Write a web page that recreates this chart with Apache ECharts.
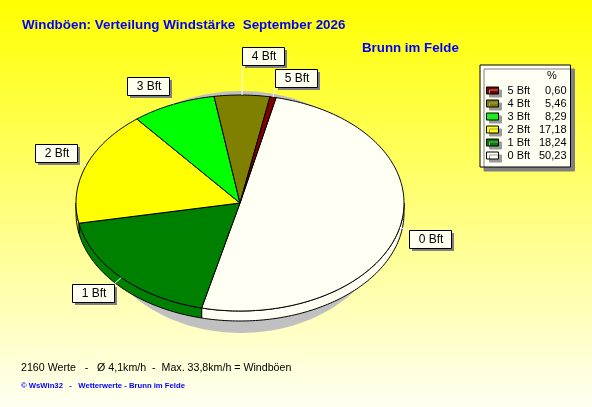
<!DOCTYPE html>
<html>
<head>
<meta charset="utf-8">
<title>Windböen Verteilung</title>
<script src="https://cdn.jsdelivr.net/npm/echarts@6/dist/echarts.min.js"></script>
<style>
  html, body { margin: 0; padding: 0; }
  #chart { width: 592px; height: 407px; }
</style>
</head>
<body>
<div id="chart"></div>
<script>
// Windstärke-Verteilung (Anteile in %)
const categories = ['0 Bft', '1 Bft', '2 Bft', '3 Bft', '4 Bft', '5 Bft'];
const shares = [50.23, 18.24, 17.18, 8.29, 5.46, 0.60];
const sliceColors = ['#fffff4', '#008000', '#ffff00', '#00ff00', '#808000', '#800000'];

const titleText = 'Windböen: Verteilung Windstärke  September 2026';
const stationText = 'Brunn im Felde';
const statsText = '2160 Werte   -   Ø 4,1km/h  -  Max. 33,8km/h = Windböen';
const footerText = '© WsWin32   -   Wetterwerte - Brunn im Felde';

const FONT = '"Liberation Sans", Arial, sans-serif';

// Geometrie der gekippten Torte
const CX = 240, CY = 203, RX = 164, RY = 108, DEPTH = 10;
const START = 12.7;           // Grad im Uhrzeigersinn ab 12 Uhr
const BOX_W = 42, BOX_H = 18;

const total = shares.reduce((s, v) => s + v, 0);
const spans = [];
let acc = START;
shares.forEach(v => {
    const a = v / total * 360;
    spans.push([acc, acc + a]);
    acc += a;
});

function pt(a, dy) {
    const r = a * Math.PI / 180;
    return [CX + RX * Math.sin(r), CY - RY * Math.cos(r) + (dy || 0)];
}

function arc(a1, a2, dy) {
    const pts = [];
    const n = Math.max(2, Math.ceil(Math.abs(a2 - a1)));
    for (let k = 0; k <= n; k++) pts.push(pt(a1 + (a2 - a1) * k / n, dy));
    return pts;
}

// Beschriftungen anordnen, Überlappungen nach außen schieben
function layoutLabels() {
    const out = [];
    const placed = [];
    for (let i = shares.length - 1; i >= 0; i--) {
        const m = (spans[i][0] + spans[i][1]) / 2;
        const r = m * Math.PI / 180;
        const p = pt(m);
        const lx = p[0] + 10 * Math.sin(r);
        const ly = p[1] - 10 * Math.cos(r);
        const right = Math.sin(r) >= -0.001;
        const upper = Math.cos(r) > 0;
        const x = Math.round(right ? lx : lx - BOX_W);
        let y = Math.round(upper ? ly - BOX_H : ly);
        let moved = true;
        while (moved) {
            moved = false;
            for (const b of placed) {
                if (x < b.x + BOX_W + 3 && x + BOX_W + 3 > b.x && y < b.y + BOX_H + 3 && y + BOX_H + 3 > b.y) {
                    y = upper ? b.y - BOX_H - 4 : b.y + BOX_H + 4;
                    moved = true;
                }
            }
        }
        placed.push({ x, y });
        out[i] = { x, y, p, end: [lx, upper ? y + BOX_H : y] };
    }
    return out;
}
const labels = layoutLabels();

function renderSide(params, api) {
    const i = params.dataIndex;
    const s = Math.max(spans[i][0], 90), e = Math.min(spans[i][1], 270);
    if (s >= e) return { type: 'group', children: [] };
    const pts = arc(s, e, 0).concat(arc(e, s, DEPTH));
    return {
        type: 'polygon',
        shape: { points: pts },
        style: { fill: sliceColors[i], stroke: '#000', lineWidth: 1 }
    };
}

function renderTop(params, api) {
    const i = params.dataIndex;
    const pts = [[CX, CY]].concat(arc(spans[i][0], spans[i][1], 0));
    return {
        type: 'polygon',
        shape: { points: pts },
        style: { fill: sliceColors[i], stroke: '#000', lineWidth: 1 }
    };
}

function renderLabel(params, api) {
    const i = params.dataIndex;
    const l = labels[i];
    return {
        type: 'group',
        children: [
            { type: 'line', shape: { x1: l.p[0], y1: l.p[1], x2: l.end[0], y2: l.end[1] }, style: { stroke: '#fff', lineWidth: 1 } },
            { type: 'rect', shape: { x: l.x + 3, y: l.y + 3, width: BOX_W, height: BOX_H }, style: { fill: '#808080' } },
            { type: 'rect', shape: { x: l.x + 0.5, y: l.y + 0.5, width: BOX_W, height: BOX_H }, style: { fill: '#fffff0', stroke: '#000', lineWidth: 1 } },
            { type: 'text', style: { text: categories[i], x: l.x + BOX_W / 2 + 1, y: l.y + BOX_H / 2 + 1, align: 'center', verticalAlign: 'middle', fill: '#000', font: '12px ' + FONT } }
        ]
    };
}

function fmt(v) { return v.toFixed(2).replace('.', ','); }

const chart = echarts.init(document.getElementById('chart'));
const seriesData = categories.map((c, i) => ({ name: c, value: shares[i] }));

chart.setOption({
    animation: false,
    backgroundColor: {
        type: 'linear', x: 0, y: 0, x2: 0, y2: 1,
        colorStops: [{ offset: 0, color: '#ffff00' }, { offset: 1, color: '#fffff2' }]
    },
    title: [
        { text: titleText, left: 22, top: 19, padding: 0, textStyle: { color: '#0000ff', fontWeight: 'bold', fontSize: 13.4, fontFamily: FONT } },
        { text: stationText, left: 362, top: 42, padding: 0, textStyle: { color: '#0000ff', fontWeight: 'bold', fontSize: 13.3, fontFamily: FONT } },
        { text: statsText, left: 21, top: 363, padding: 0, textStyle: { color: '#000', fontWeight: 'normal', fontSize: 10.65, fontFamily: FONT } },
        { text: footerText, left: 21, top: 382, padding: 0, textStyle: { color: '#0000ff', fontWeight: 'bold', fontSize: 7.7, fontFamily: FONT } },
        { text: '%', left: 547, top: 70, padding: 0, textStyle: { color: '#000', fontWeight: 'normal', fontSize: 11, fontFamily: FONT } }
    ],
    legend: {
        orient: 'vertical',
        left: 480, top: 65,
        padding: [20, 4, 6, 6],
        data: categories.slice().reverse(),
        icon: 'rect',
        itemWidth: 12, itemHeight: 7, itemGap: 2,
        backgroundColor: '#fffff4',
        borderColor: '#000', borderWidth: 1,
        shadowColor: '#808080', shadowBlur: 0, shadowOffsetX: 4, shadowOffsetY: 4,
        itemStyle: { borderColor: '#000', borderWidth: 1, shadowColor: '#9a9a9a', shadowBlur: 0, shadowOffsetX: 3, shadowOffsetY: 3 },
        selectedMode: false,
        formatter: name => `{n|${name}}{v|${fmt(shares[categories.indexOf(name)])}}`,
        textStyle: {
            color: '#000', fontSize: 11, fontFamily: FONT,
            rich: {
                n: { width: 30, padding: [0, 0, 0, 4], fontSize: 11, lineHeight: 12, fontFamily: FONT, color: '#000' },
                v: { width: 29, align: 'right', fontSize: 11, lineHeight: 12, fontFamily: FONT, color: '#000' }
            }
        }
    },
    graphic: [
        // Schatten unter der Torte
        { type: 'ellipse', z: 1, silent: true, shape: { cx: 241, cy: 212, rx: 150, ry: 121 }, style: { fill: '#c0c0c0' } }
    ],
    series: [
        // nur für die Legende
        { type: 'pie', name: 'legende', silent: true, center: [-80, -80], radius: [0, 1], label: { show: false }, labelLine: { show: false },
          data: seriesData.map((d, i) => ({ ...d, itemStyle: { color: sliceColors[i] } })) },
        { type: 'custom', name: 'seiten', silent: true, coordinateSystem: 'none', data: shares, renderItem: renderSide, z: 3 },
        { type: 'custom', name: 'oben', silent: true, coordinateSystem: 'none', data: shares, renderItem: renderTop, z: 4 },
        { type: 'custom', name: 'beschriftung', silent: true, coordinateSystem: 'none', data: shares, renderItem: renderLabel, z: 5 }
    ]
});
</script>
</body>
</html>
